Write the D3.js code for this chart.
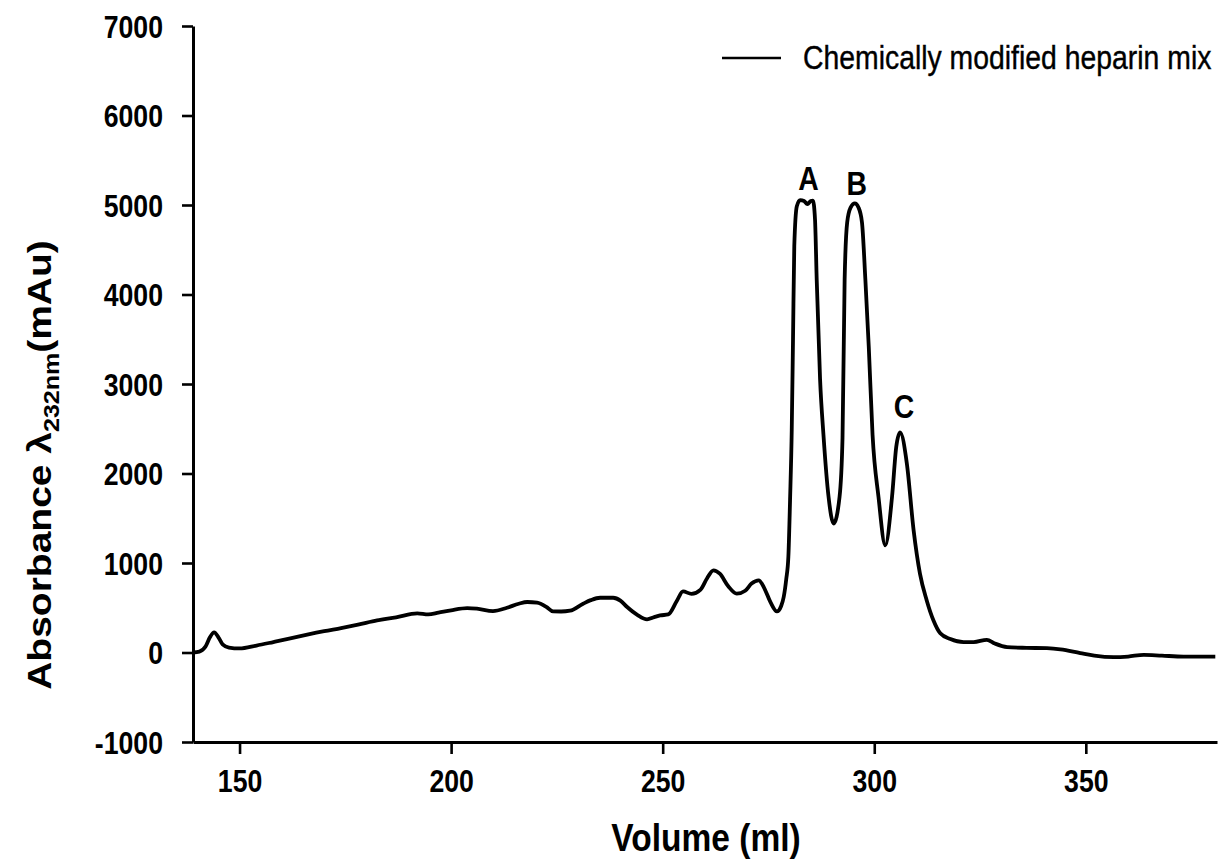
<!DOCTYPE html>
<html>
<head>
<meta charset="utf-8">
<script src="https://cdn.jsdelivr.net/npm/d3@7/dist/d3.min.js"></script>
<style>
  html, body { margin: 0; padding: 0; background: #fff; }
  svg { display: block; font-family: "Liberation Sans", Arial, sans-serif; }
</style>
</head>
<body>
<svg id="chart" width="1224" height="865"></svg>
<script>
// Elution volume (ml) and absorbance at 232 nm (mAu) of the chromatogram
const volume = [
  139, 140.5, 142, 143, 144, 145, 146, 147.5, 150, 154, 158, 162, 166, 170, 174, 178,
  182.5, 187, 192, 194.6, 197, 200, 203.8, 206.1, 209.9, 213.2, 216, 218, 220.3, 222.5,
  224.1, 226, 228.1, 231.2, 233, 235.2, 238.3, 240, 241.6, 244, 246.3, 248, 249.4, 251.3,
  253.4, 254.8, 256.8, 258.9, 260.5, 262, 263.5, 265.5, 267.5, 269.5, 271, 272.7, 274,
  275.5, 277, 278, 278.6, 279.2, 279.7, 280.1, 280.5, 280.8, 281.1, 281.7, 282.5, 283.4,
  284.2, 285, 285.5, 286, 286.4, 287.2, 288, 289.2, 290.4, 291.8, 292.5, 293, 293.6,
  294.4, 295.4, 296.3, 297.1, 297.9, 298.7, 299.6, 301, 302.6, 304.2, 305.2, 306.1,
  307.7, 309.3, 310.8, 312.4, 314, 315.6, 318, 321.1, 323.5, 326.6, 328.5, 331.4, 336,
  340.8, 344, 348.7, 352, 356.6, 360, 363.7, 368, 373.1, 380.6
];
const absorbance = [
  0, 10, 70, 170, 224, 170, 90, 55, 45, 78, 117, 157, 199, 238, 273, 311,
  358, 392, 437, 425, 445, 472, 496, 490, 463, 500, 545, 564, 556, 510,
  459, 458, 467, 545, 585, 612, 612, 580, 508, 420, 370, 395, 414, 425,
  582, 683, 655, 700, 830, 918, 880, 740, 657, 690, 770, 806, 720,
  560, 459, 520, 620, 820, 1068, 1700, 2486, 3500, 4540, 4987, 5055, 5045,
  5010, 5045, 5050, 4838, 4166, 3046, 2430, 1739, 1441, 1739, 2400, 4166, 4805,
  4970, 5018, 4970, 4805, 4166, 3419, 2430, 1739, 1198, 1739, 2299, 2460,
  2113, 1366, 881, 582, 358, 215, 150, 116, 116, 142, 100, 60, 52,
  48, 35, -7, -35, -52, -45, -26, -35, -45, -45
];

// Peak annotations
const peakNames = ["A", "B", "C"];
const peakVolumes = [284, 295.4, 306.1];
const peakHeights = [5055, 5018, 2460];

// Axis ticks
const xTicks = [150, 200, 250, 300, 350];
const yTicks = [-1000, 0, 1000, 2000, 3000, 4000, 5000, 6000, 7000];

const seriesName = "Chemically modified heparin mix";

const svg = d3.select("#chart");
const narrow = 0.86; // horizontal squeeze of all lettering

const x = d3.scaleLinear().domain([139, 381]).range([193, 1217]);
const y = d3.scaleLinear().domain([-1000, 7000]).range([742, 26]);

// Axes
const xAxis = svg.append("g")
  .attr("transform", `translate(0,${y(-1000)})`)
  .call(d3.axisBottom(x).tickValues(xTicks).tickSize(12).tickSizeOuter(0).tickFormat(d => String(d)));

const yAxis = svg.append("g")
  .attr("transform", `translate(${x(139)},0)`)
  .call(d3.axisLeft(y).tickValues(yTicks).tickSize(11).tickSizeOuter(0).tickFormat(d => String(d)));

[xAxis, yAxis].forEach(g => {
  g.select(".domain").attr("stroke", "#000").attr("stroke-width", 3);
  g.selectAll(".tick line").attr("stroke", "#000").attr("stroke-width", 2.6);
  g.selectAll(".tick text")
    .attr("fill", "#000")
    .attr("font-size", 31)
    .attr("font-weight", "bold")
    .attr("font-family", "'Liberation Sans', Arial, sans-serif");
});

xAxis.selectAll(".tick text")
  .attr("y", 50).attr("dy", 0)
  .attr("transform", `scale(${narrow},1)`);

yAxis.selectAll(".tick text")
  .attr("x", -30 / narrow).attr("dy", "0.36em")
  .attr("transform", `scale(${narrow},1)`);

// Chromatogram trace
const points = volume.map((v, i) => [v, absorbance[i]]);
const line = d3.line()
  .x(d => x(d[0]))
  .y(d => y(d[1]))
  .curve(d3.curveMonotoneX);

svg.append("path")
  .datum(points)
  .attr("fill", "none")
  .attr("stroke", "#000")
  .attr("stroke-width", 3.8)
  .attr("stroke-linejoin", "round")
  .attr("d", line);

// Peak labels
const peakOffsets = [[2, -10], [2, -8], [4, -14]];
peakNames.forEach((name, i) => {
  svg.append("g")
    .attr("transform", `translate(${x(peakVolumes[i]) + peakOffsets[i][0]},${y(peakHeights[i]) + peakOffsets[i][1]}) scale(${narrow},1)`)
    .append("text")
    .attr("text-anchor", "middle")
    .attr("font-size", 33)
    .attr("font-weight", "bold")
    .text(name);
});

// Legend
svg.append("line")
  .attr("x1", 722).attr("x2", 781)
  .attr("y1", 58).attr("y2", 58)
  .attr("stroke", "#000").attr("stroke-width", 2.4);

svg.append("g")
  .attr("transform", `translate(803,69) scale(${narrow},1)`)
  .append("text")
  .attr("font-size", 33)
  .attr("stroke", "#000")
  .attr("stroke-width", 0.4)
  .text(seriesName);

// X axis title
svg.append("g")
  .attr("transform", `translate(706,851) scale(${narrow},1)`)
  .append("text")
  .attr("text-anchor", "middle")
  .attr("font-size", 39)
  .attr("font-weight", "bold")
  .text("Volume (ml)");

// Y axis title with subscript wavelength
const yTitle = svg.append("g")
  .attr("transform", `translate(51,465) scale(${narrow},1) rotate(-90)`)
  .append("text")
  .attr("text-anchor", "middle")
  .attr("font-size", 39)
  .attr("font-weight", "bold");
yTitle.append("tspan").text("Absorbance \u03BB");
yTitle.append("tspan").attr("font-size", 25).attr("dy", 9).text("232nm");
yTitle.append("tspan").attr("dy", -9).text("(mAu)");
</script>
</body>
</html>
